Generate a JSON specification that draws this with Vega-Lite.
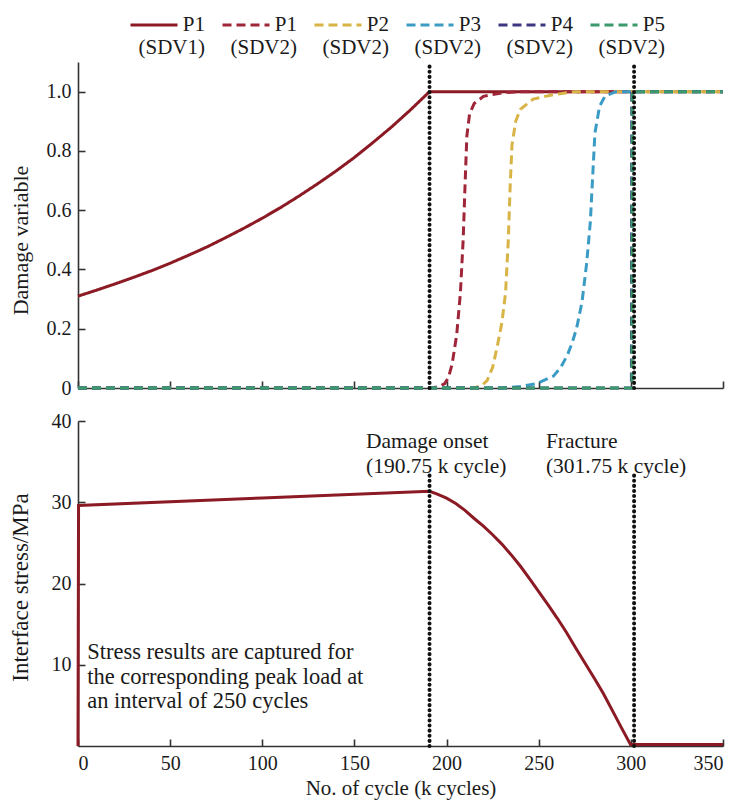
{
  "$schema": "https://vega.github.io/schema/vega-lite/v6.json",
  "padding": {"left": 9, "top": 0, "right": 5, "bottom": 5},
  "config": {
    "font": "Liberation Serif, Times New Roman, DejaVu Serif, serif",
    "view": {"stroke": null},
    "axis": {"grid": false, "domainColor": "#333333", "domainWidth": 1.6, "tickColor": "#333333", "tickWidth": 1.6, "tickSize": -7, "labelFontSize": 20, "labelColor": "#1a1a1a", "titleFontSize": 21, "titleFontWeight": "normal", "titleColor": "#1a1a1a", "labelPadding": 14}
  },
  "datasets": {
    "damage": [
      {"series": "P1 (SDV1)", "x": 0, "y": 0.31},
      {"series": "P1 (SDV1)", "x": 10, "y": 0.33},
      {"series": "P1 (SDV1)", "x": 20, "y": 0.351},
      {"series": "P1 (SDV1)", "x": 30, "y": 0.373},
      {"series": "P1 (SDV1)", "x": 40, "y": 0.396},
      {"series": "P1 (SDV1)", "x": 50, "y": 0.421},
      {"series": "P1 (SDV1)", "x": 60, "y": 0.448},
      {"series": "P1 (SDV1)", "x": 70, "y": 0.476},
      {"series": "P1 (SDV1)", "x": 80, "y": 0.507},
      {"series": "P1 (SDV1)", "x": 90, "y": 0.539},
      {"series": "P1 (SDV1)", "x": 100, "y": 0.573},
      {"series": "P1 (SDV1)", "x": 110, "y": 0.609},
      {"series": "P1 (SDV1)", "x": 120, "y": 0.648},
      {"series": "P1 (SDV1)", "x": 130, "y": 0.689},
      {"series": "P1 (SDV1)", "x": 140, "y": 0.732},
      {"series": "P1 (SDV1)", "x": 150, "y": 0.778},
      {"series": "P1 (SDV1)", "x": 160, "y": 0.828},
      {"series": "P1 (SDV1)", "x": 170, "y": 0.88},
      {"series": "P1 (SDV1)", "x": 180, "y": 0.936},
      {"series": "P1 (SDV1)", "x": 190.75, "y": 1.0},
      {"series": "P1 (SDV1)", "x": 301.75, "y": 1.0},

      {"series": "P1 (SDV2)", "x": 0, "y": 0},
      {"series": "P1 (SDV2)", "x": 192, "y": 0},
      {"series": "P1 (SDV2)", "x": 196, "y": 0.005},
      {"series": "P1 (SDV2)", "x": 199, "y": 0.015},
      {"series": "P1 (SDV2)", "x": 201, "y": 0.035},
      {"series": "P1 (SDV2)", "x": 203, "y": 0.08},
      {"series": "P1 (SDV2)", "x": 205.5, "y": 0.18},
      {"series": "P1 (SDV2)", "x": 207.5, "y": 0.32},
      {"series": "P1 (SDV2)", "x": 209, "y": 0.5},
      {"series": "P1 (SDV2)", "x": 210, "y": 0.68},
      {"series": "P1 (SDV2)", "x": 211, "y": 0.85},
      {"series": "P1 (SDV2)", "x": 212.5, "y": 0.925},
      {"series": "P1 (SDV2)", "x": 215, "y": 0.96},
      {"series": "P1 (SDV2)", "x": 220, "y": 0.984},
      {"series": "P1 (SDV2)", "x": 230, "y": 0.996},
      {"series": "P1 (SDV2)", "x": 240, "y": 1.0},
      {"series": "P1 (SDV2)", "x": 350, "y": 1.0},

      {"series": "P2 (SDV2)", "x": 0, "y": 0},
      {"series": "P2 (SDV2)", "x": 215, "y": 0},
      {"series": "P2 (SDV2)", "x": 219, "y": 0.008},
      {"series": "P2 (SDV2)", "x": 222, "y": 0.025},
      {"series": "P2 (SDV2)", "x": 225, "y": 0.07},
      {"series": "P2 (SDV2)", "x": 227.5, "y": 0.14},
      {"series": "P2 (SDV2)", "x": 230, "y": 0.22},
      {"series": "P2 (SDV2)", "x": 232, "y": 0.32},
      {"series": "P2 (SDV2)", "x": 233.5, "y": 0.5},
      {"series": "P2 (SDV2)", "x": 234.5, "y": 0.68},
      {"series": "P2 (SDV2)", "x": 235.5, "y": 0.82},
      {"series": "P2 (SDV2)", "x": 237.5, "y": 0.9},
      {"series": "P2 (SDV2)", "x": 240, "y": 0.94},
      {"series": "P2 (SDV2)", "x": 247, "y": 0.975},
      {"series": "P2 (SDV2)", "x": 258, "y": 0.99},
      {"series": "P2 (SDV2)", "x": 270, "y": 1.0},
      {"series": "P2 (SDV2)", "x": 350, "y": 1.0},

      {"series": "P3 (SDV2)", "x": 0, "y": 0},
      {"series": "P3 (SDV2)", "x": 230, "y": 0},
      {"series": "P3 (SDV2)", "x": 240, "y": 0.005},
      {"series": "P3 (SDV2)", "x": 249, "y": 0.015},
      {"series": "P3 (SDV2)", "x": 258, "y": 0.04},
      {"series": "P3 (SDV2)", "x": 262, "y": 0.07},
      {"series": "P3 (SDV2)", "x": 265.5, "y": 0.11},
      {"series": "P3 (SDV2)", "x": 268, "y": 0.15},
      {"series": "P3 (SDV2)", "x": 270.5, "y": 0.2},
      {"series": "P3 (SDV2)", "x": 273.5, "y": 0.29},
      {"series": "P3 (SDV2)", "x": 276, "y": 0.42},
      {"series": "P3 (SDV2)", "x": 278, "y": 0.56},
      {"series": "P3 (SDV2)", "x": 279.5, "y": 0.74},
      {"series": "P3 (SDV2)", "x": 280.5, "y": 0.86},
      {"series": "P3 (SDV2)", "x": 283, "y": 0.95},
      {"series": "P3 (SDV2)", "x": 286, "y": 0.985},
      {"series": "P3 (SDV2)", "x": 292, "y": 1.0},
      {"series": "P3 (SDV2)", "x": 350, "y": 1.0},

      {"series": "P4 (SDV2)", "x": 0, "y": 0},
      {"series": "P4 (SDV2)", "x": 300.3, "y": 0},
      {"series": "P4 (SDV2)", "x": 300.5, "y": 1.0},
      {"series": "P4 (SDV2)", "x": 350, "y": 1.0},

      {"series": "P5 (SDV2)", "x": 0, "y": 0},
      {"series": "P5 (SDV2)", "x": 300.6, "y": 0},
      {"series": "P5 (SDV2)", "x": 300.8, "y": 1.0},
      {"series": "P5 (SDV2)", "x": 350, "y": 1.0}
    ],
    "stress": [
      {"x": 0, "y": 0},
      {"x": 0.3, "y": 29.6},
      {"x": 100, "y": 30.52},
      {"x": 190.75, "y": 31.35},
      {"x": 195, "y": 31.0},
      {"x": 200, "y": 30.5},
      {"x": 205, "y": 29.84},
      {"x": 210, "y": 29.0},
      {"x": 215, "y": 28.0},
      {"x": 220, "y": 27.05},
      {"x": 225, "y": 26.0},
      {"x": 230, "y": 24.85},
      {"x": 235, "y": 23.55},
      {"x": 240, "y": 22.15},
      {"x": 245, "y": 20.6},
      {"x": 250, "y": 19.0},
      {"x": 255, "y": 17.4},
      {"x": 260, "y": 15.75},
      {"x": 265, "y": 14.0},
      {"x": 270, "y": 12.1},
      {"x": 275, "y": 10.25},
      {"x": 280, "y": 8.4},
      {"x": 285, "y": 6.5},
      {"x": 290, "y": 4.35},
      {"x": 295, "y": 2.2},
      {"x": 299.8, "y": 0.2},
      {"x": 350, "y": 0.2}
    ],
    "events": [
      {"x": 190.75},
      {"x": 301.75}
    ],
    "notes": [
      {"x": 5, "y": 12.9, "size": "big", "text": "Stress results are captured for\nthe corresponding peak load at\nan interval of 250 cycles"},
      {"x": 156.3, "y": 38.8, "size": "small", "text": "Damage onset\n(190.75 k cycle)"},
      {"x": 253.9, "y": 38.8, "size": "small", "text": "Fracture\n(301.75 k cycle)"}
    ]
  },
  "bounds": "flush",
  "spacing": 33,
  "vconcat": [
    {
      "width": 645,
      "height": 326,
      "layer": [
        {
          "data": {"name": "damage"},
          "transform": [{"filter": "datum.series === 'P1 (SDV1)'"}],
          "mark": {"type": "line", "strokeWidth": 3},
          "encoding": {
            "x": {"field": "x", "type": "quantitative", "scale": {"domain": [0, 350], "nice": false}, "axis": {"values": [0, 50, 100, 150, 200, 250, 300, 350], "labels": false, "title": null}},
            "y": {"field": "y", "type": "quantitative", "scale": {"domain": [0, 1.1], "nice": false}, "axis": {"values": [0, 0.2, 0.4, 0.6, 0.8, 1.0], "labelExpr": "datum.value === 0 ? '0' : format(datum.value, '.1f')", "title": "Damage variable", "titleX": -58, "titleY": 178, "titleBaseline": "middle", "titleFontSize": 22}},
            "color": {"field": "series", "type": "nominal",
              "scale": {"domain": ["P1 (SDV1)", "P1 (SDV2)", "P2 (SDV2)", "P3 (SDV2)", "P4 (SDV2)", "P5 (SDV2)"], "range": ["#8b1a24", "#9e2638", "#d8b447", "#3a9cc4", "#3d3783", "#3a9a6c"]},
              "legend": {"title": null, "orient": "none", "legendX": 51, "legendY": -62, "direction": "horizontal", "columns": 6, "symbolType": "stroke", "symbolSize": 2209, "symbolStrokeWidth": 3, "labelFontSize": 21, "labelColor": "#1a1a1a", "labelAlign": "right", "labelBaseline": "middle", "labelOffset": 26, "labelLimit": 0, "columnPadding": 11, "labelExpr": "split(datum.label, ' ')"}},
            "strokeDash": {"field": "series", "type": "nominal",
              "scale": {"domain": ["P1 (SDV1)", "P1 (SDV2)", "P2 (SDV2)", "P3 (SDV2)", "P4 (SDV2)", "P5 (SDV2)"], "range": [[1, 0], [9, 5], [9, 5], [9, 5], [9, 5], [9, 5]]}}
          }
        },
        {
          "data": {"name": "damage"},
          "transform": [{"filter": "datum.series !== 'P1 (SDV1)'"}],
          "mark": {"type": "line", "strokeWidth": 3},
          "encoding": {
            "x": {"field": "x", "type": "quantitative"},
            "y": {"field": "y", "type": "quantitative"},
            "color": {"field": "series", "type": "nominal"},
            "strokeDash": {"field": "series", "type": "nominal"}
          }
        },
        {
          "data": {"name": "events"},
          "mark": {"type": "rule", "strokeDash": [0.1, 5], "strokeCap": "round", "strokeWidth": 4, "color": "#111111"},
          "encoding": {
            "x": {"field": "x", "type": "quantitative"},
            "y": {"datum": 0},
            "y2": {"datum": 1.09}
          }
        }
      ]
    },
    {
      "width": 645,
      "height": 325,
      "layer": [
        {
          "data": {"name": "stress"},
          "mark": {"type": "line", "strokeWidth": 3, "color": "#8b1a24"},
          "encoding": {
            "x": {"field": "x", "type": "quantitative", "scale": {"domain": [0, 350], "nice": false}, "axis": {"values": [0, 50, 100, 150, 200, 250, 300, 350], "title": "No. of cycle (k cycles)", "titlePadding": 4}},
            "y": {"field": "y", "type": "quantitative", "scale": {"domain": [0, 40], "nice": false}, "axis": {"values": [10, 20, 30, 40], "title": "Interface stress/MPa", "titleX": -58, "titleY": 166, "titleBaseline": "middle", "titleFontSize": 23}}
          }
        },
        {
          "data": {"name": "events"},
          "mark": {"type": "rule", "strokeDash": [0.1, 5], "strokeCap": "round", "strokeWidth": 4, "color": "#111111"},
          "encoding": {
            "x": {"field": "x", "type": "quantitative"},
            "y": {"datum": 0},
            "y2": {"datum": 33.5}
          }
        },
        {
          "data": {"name": "notes"},
          "transform": [{"filter": "datum.size === 'big'"}],
          "mark": {"type": "text", "align": "left", "baseline": "top", "fontSize": 22.5, "lineBreak": "\n", "lineHeight": 24.5, "color": "#1a1a1a"},
          "encoding": {
            "x": {"field": "x", "type": "quantitative"},
            "y": {"field": "y", "type": "quantitative"},
            "text": {"field": "text"}
          }
        },
        {
          "data": {"name": "notes"},
          "transform": [{"filter": "datum.size === 'small'"}],
          "mark": {"type": "text", "align": "left", "baseline": "top", "fontSize": 21.5, "lineBreak": "\n", "lineHeight": 25.5, "color": "#1a1a1a"},
          "encoding": {
            "x": {"field": "x", "type": "quantitative"},
            "y": {"field": "y", "type": "quantitative"},
            "text": {"field": "text"}
          }
        }
      ]
    }
  ]
}
